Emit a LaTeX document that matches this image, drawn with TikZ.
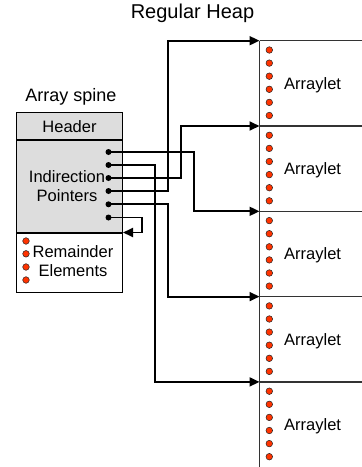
\documentclass[tikz,border=0pt]{standalone}
\usepackage{fontspec}
\setmainfont{Liberation Sans}
\usetikzlibrary{arrows.meta, positioning, calc}

\definecolor{spinegray}{RGB}{221,221,221}
\definecolor{elemred}{RGB}{255,51,0}

\begin{document}
\begin{tikzpicture}[x=1pt, y=-1pt,
    part/.style={draw, line width=1pt, inner sep=0pt, minimum width=106pt, anchor=north west},
    slot/.style={minimum width=110pt, minimum height=85.3pt, inner sep=0pt, anchor=north west},
    elem/.style={circle, draw=black!85, line width=0.5pt, fill=elemred, minimum size=6.6pt, inner sep=0pt},
    ptr/.style={circle, fill=black, minimum size=6pt, inner sep=0pt},
    link/.style={line width=1.8pt, -{Triangle[length=10pt, width=9pt]}},
    heapline/.style={line width=1.3pt, black!80},
    lbl/.style={font=\fontsize{16.5}{19}\selectfont, inner sep=0pt},
    mytitle/.style={inner sep=0pt},
]
    \useasboundingbox (0,0) rectangle (362,467);

    % Titles
    \node[mytitle, font=\fontsize{20}{22}\selectfont] (heaptitle) at (192.5,13) {Regular Heap};
    \node[mytitle, font=\fontsize{18}{20}\selectfont] (spinetitle) at (71,96.5) {Array spine};

    % Array spine: header, pointer section, remainder section
    \node[part, fill=spinegray, minimum height=27pt, lbl] (header) at (16,112.3) {Header};
    \node[part, fill=spinegray, minimum height=91.2pt] (ptrs) at (header.south west) {};
    \node[part, minimum height=59.5pt] (rest) at (ptrs.south west) {};
    \node[lbl, align=center] (ptrtext) at (67,186.5) {Indirection\\Pointers};
    \node[lbl, align=center] (resttext) at (73,261.5) {Remainder\\Elements};

    % Regular heap: five arraylets stacked, open to the right
    \foreach \i in {1,...,5} {
        \node[slot] (a\i) at (259.5,{40.7+85.3*(\i-1)}) {};
        \node[lbl, anchor=west] (al\i) at ($(a\i.west)+(24.5,1.5)$) {Arraylet};
        \draw[heapline] (a\i.north west) -- (a\i.north east);
    }
    \draw[heapline] (a1.north west) -- (a5.south west);

    % Indirection pointer slots
    \foreach \j/\y in {1/152,2/165,3/178,4/191,5/204.3,6/217.5}
        \coordinate (p\j) at (108.5,\y);

    % Bend columns for the pointer links
    \coordinate (bend1) at (194,0);
    \coordinate (bend2) at (155,0);
    \coordinate (bend3) at (181,0);
    \coordinate (bend4) at (168,0);
    \coordinate (bend5) at (168,0);
    \coordinate (bend6) at (141.7,0);

    % Links from the spine to the arraylets
    \draw[link] (p1) -- (p1 -| bend1) |- (a3.north west);
    \draw[link] (p2) -- (p2 -| bend2) |- (a5.north west);
    \draw[link] (p3) -- (p3 -| bend3) |- (a2.north west);
    \draw[link] (p4) -- (p4 -| bend4) |- (a1.north west);
    \draw[link] (p5) -- (p5 -| bend5) |- (a4.north west);
    \draw[link] (p6) -- (p6 -| bend6) |- (ptrs.south east);

    % Pointer dots on top of the links
    \foreach \j in {1,...,6}
        \node[ptr] (pd\j) at (p\j) {};

    % Elements in the arraylets
    \foreach \i in {1,...,5}
        \foreach \k in {0,...,5}
            \node[elem] (e\i\k) at ($(a\i.north west)+(9.8,{9.3+13.1*\k})$) {};

    % Remainder elements in the spine
    \foreach \k/\y in {1/241,2/253.8,3/267,4/280}
        \node[elem] (r\k) at (26,\y) {};

\end{tikzpicture}
\end{document}
